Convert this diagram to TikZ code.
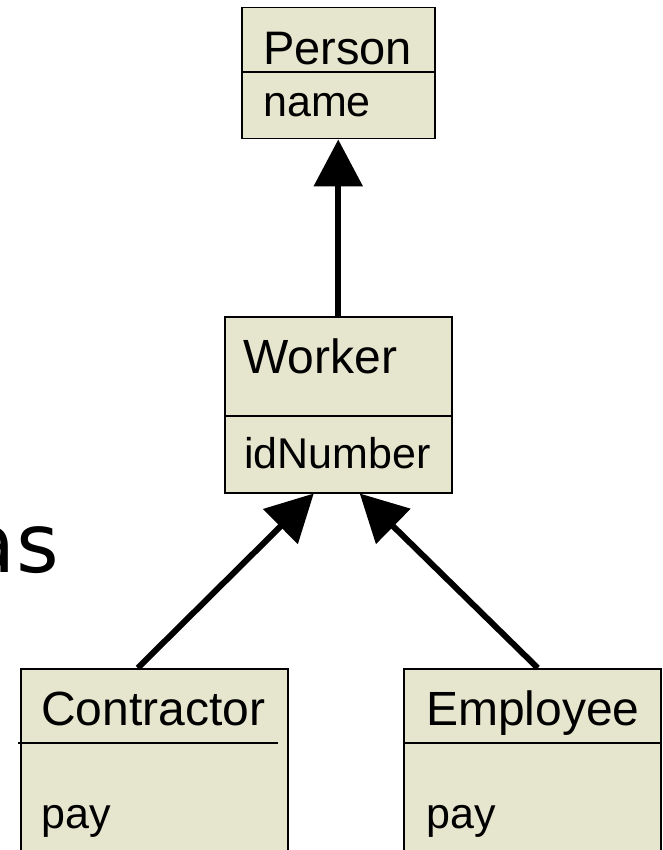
\documentclass[tikz,border=0pt]{standalone}
\usepackage{fontspec}
\setmainfont{Liberation Sans}
\newfontfamily\slidefont{DejaVu Sans}
\usetikzlibrary{arrows.meta}

\definecolor{classfill}{RGB}{230,229,206}

\begin{document}
\begin{tikzpicture}[
    x=1pt, y=-1pt,
    cls/.style={draw, line width=1.5pt, fill=classfill, inner sep=0pt, anchor=north west},
    sep/.style={line width=1.5pt},
    title/.style={anchor=base west, inner sep=0pt, font=\fontsize{48}{48}\selectfont},
    attr/.style={anchor=base west, inner sep=0pt, font=\fontsize{43}{43}\selectfont},
    inh/.style={line width=6pt, -{Triangle[length=47pt, width=48pt]}}
  ]
  \useasboundingbox (0,0) rectangle (662,850);
  % left-over slide text
  \node[anchor=base east, inner sep=0pt, font=\slidefont\fontsize{82}{82}\selectfont] (slidetext) at (59,572) {as};
  % classes
  \node[cls, minimum width=193pt, minimum height=131pt] (person) at (241,7) {};
  \node[cls, minimum width=227pt, minimum height=176pt] (worker) at (224,316) {};
  \node[cls, minimum width=267pt, minimum height=200pt] (contractor) at (20,668) {};
  \node[cls, minimum width=257pt, minimum height=200pt] (employee) at (403,668) {};
  \draw[sep] (241,72) -- (434,72);
  \draw[sep] (224,416) -- (451,416);
  \draw[sep] (18,743) -- (278,743);
  \draw[sep] (403,743) -- (662,743);
  % texts
  \node[title, font=\fontsize{47}{47}\selectfont] (personname) at (263,65) {Person};
  \node[attr] (personattr) at (263,117) {name};
  \node[title] (workername) at (243,373) {Worker};
  \node[attr] (workerattr) at (244,468) {idNumber};
  \node[title] (contractorname) at (41,725) {Contractor};
  \node[attr] (contractorattr) at (41,828) {pay};
  \node[title] (employeename) at (426,725) {Employee};
  \node[attr] (employeeattr) at (426,828) {pay};
  % inheritance
  \draw[inh] (worker) -- (person);
  \draw[inh] ([xshift=-16.5pt]contractor.north) -- ([xshift=-24.5pt]worker.south);
  \draw[inh] ([xshift=5.5pt]employee.north) -- ([xshift=21.5pt]worker.south);
\end{tikzpicture}
\end{document}
